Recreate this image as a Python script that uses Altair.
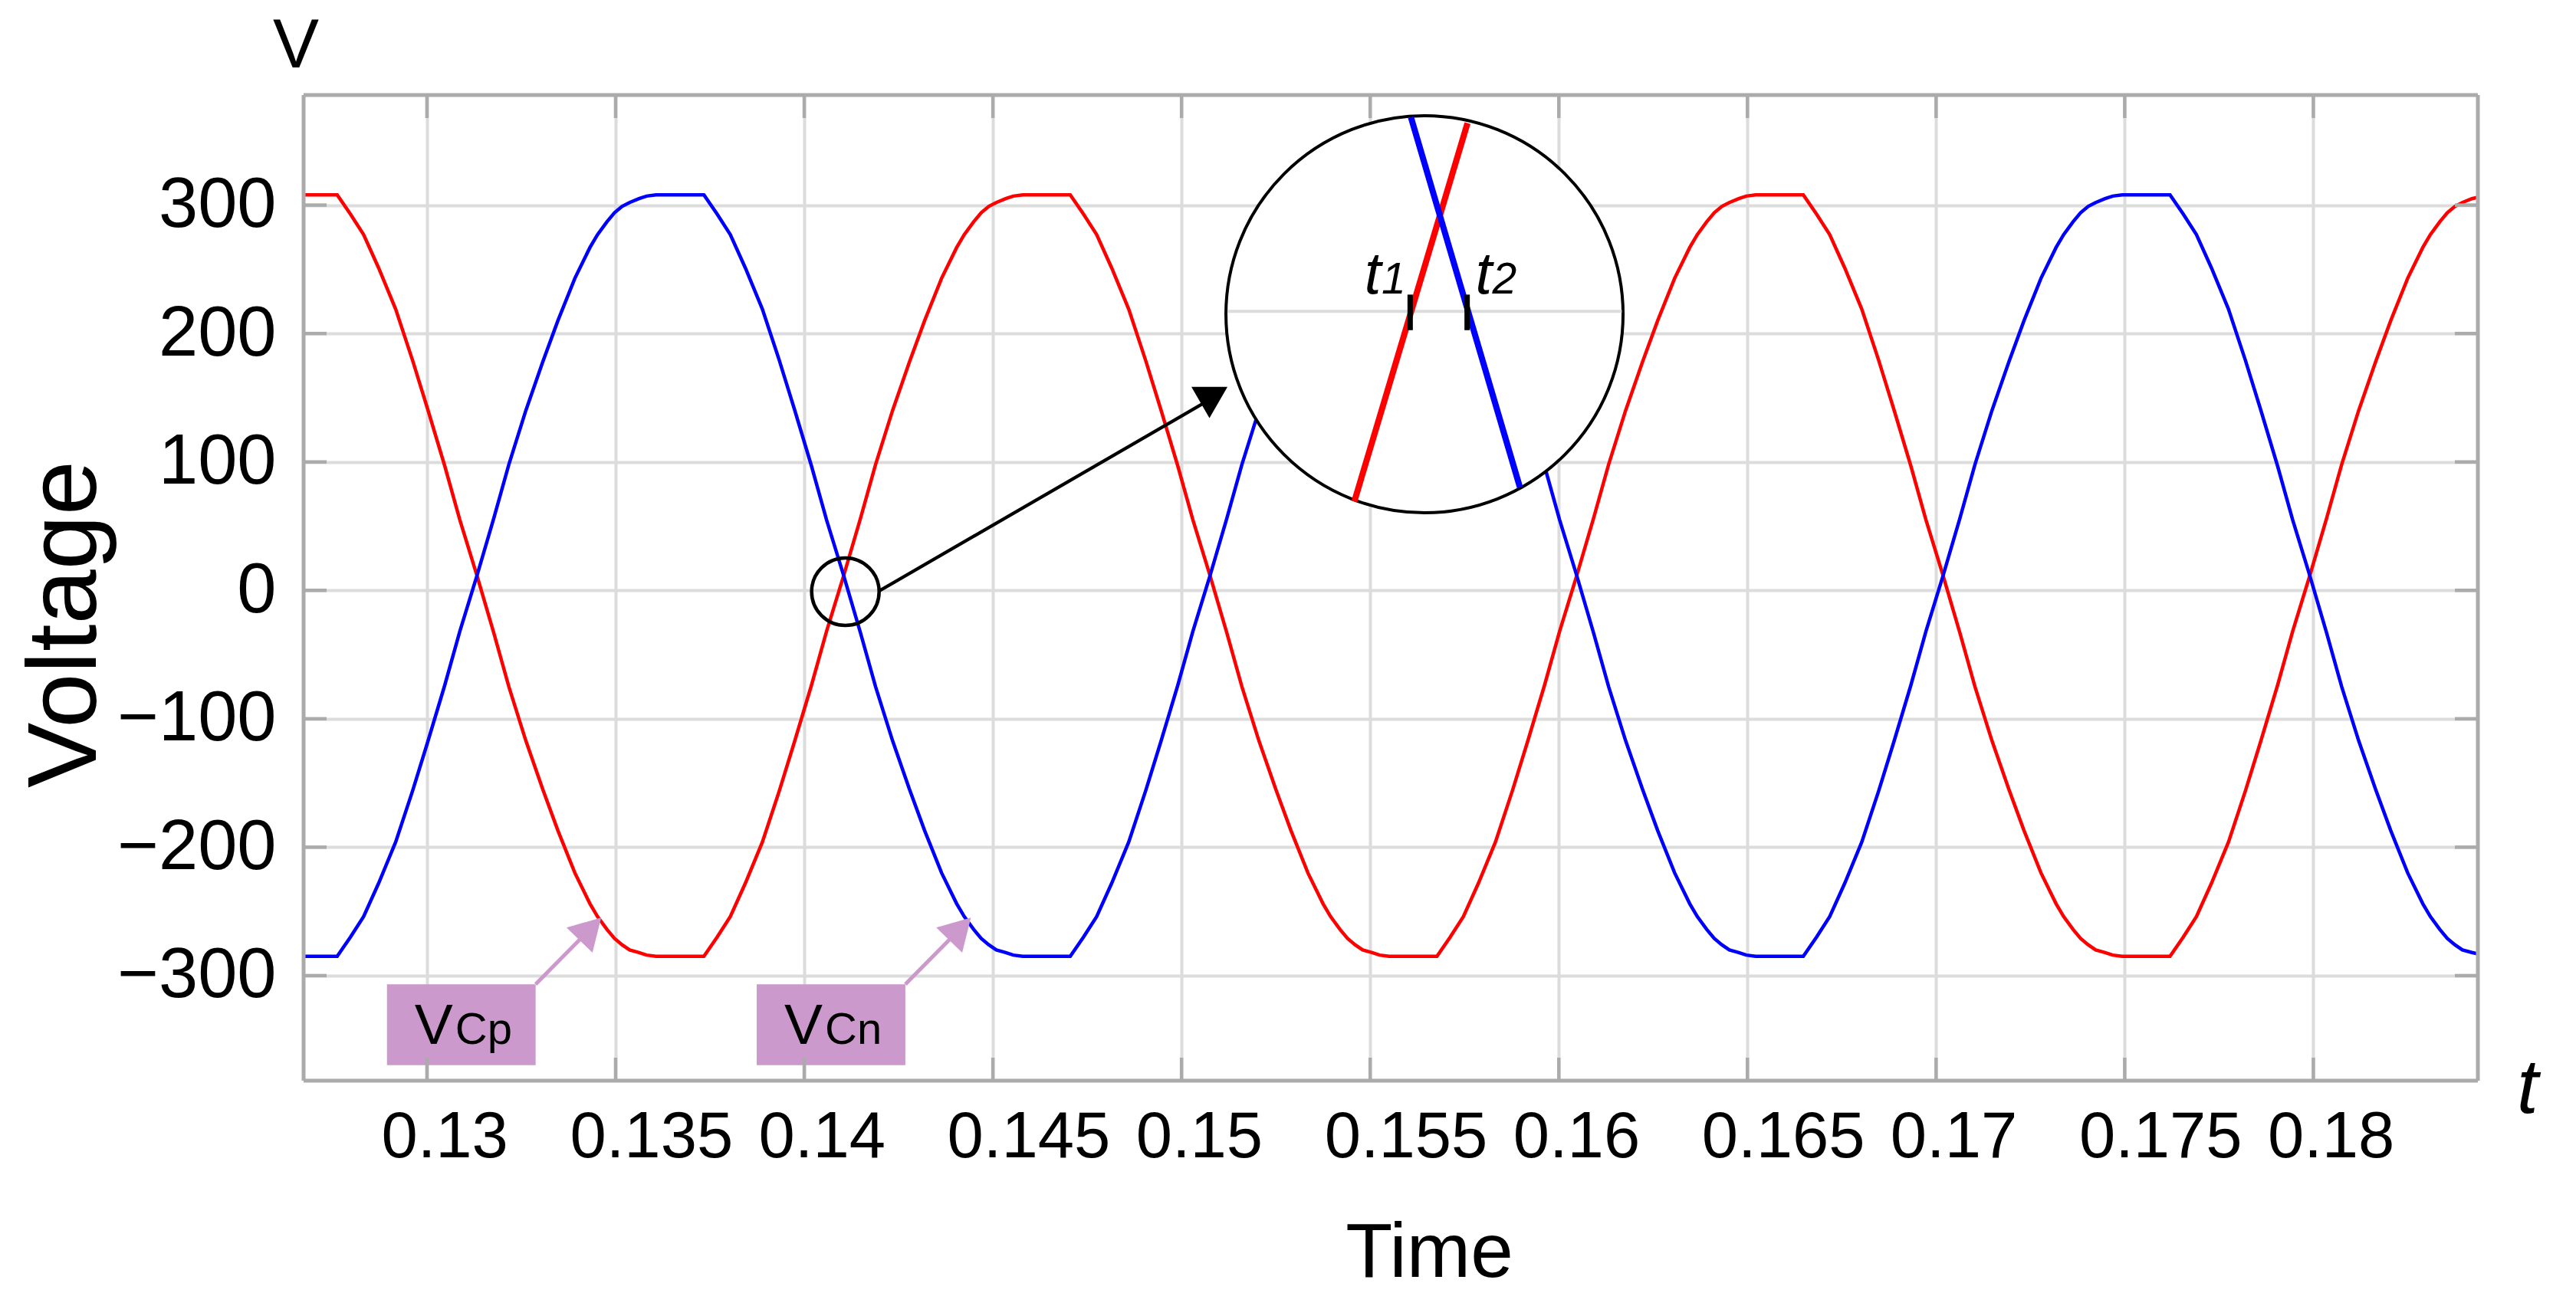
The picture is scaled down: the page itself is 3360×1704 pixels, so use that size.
import altair as alt
import pandas as pd

# ---------------- data ----------------
time_s = [0.12673,
    0.12762, 0.12797, 0.12832, 0.12872, 0.12917, 0.12962, 0.13002, 0.13047, 0.13087, 0.13132, 0.13177,
    0.13217, 0.13262, 0.13307, 0.13347, 0.13392, 0.13432, 0.13452, 0.13477, 0.13497, 0.13517, 0.13537, 0.13562, 0.13582, 0.13607,
    0.13734, 0.13769, 0.13804, 0.13844, 0.13889, 0.13934, 0.13974, 0.14019, 0.14059, 0.14104, 0.14149,
    0.14189, 0.14234, 0.14279, 0.14319, 0.14364, 0.14404, 0.14424, 0.14449, 0.14469, 0.14489, 0.14509, 0.14534, 0.14554, 0.14579,
    0.14705, 0.14740, 0.14775, 0.14815, 0.14860, 0.14905, 0.14945, 0.14990, 0.15030, 0.15075, 0.15120,
    0.15160, 0.15205, 0.15250, 0.15290, 0.15335, 0.15375, 0.15395, 0.15420, 0.15440, 0.15460, 0.15480, 0.15505, 0.15525, 0.15550,
    0.15677, 0.15712, 0.15747, 0.15787, 0.15832, 0.15877, 0.15917, 0.15962, 0.16002, 0.16047, 0.16092,
    0.16132, 0.16177, 0.16222, 0.16262, 0.16307, 0.16347, 0.16367, 0.16392, 0.16412, 0.16432, 0.16452, 0.16477, 0.16497, 0.16522,
    0.16648, 0.16683, 0.16718, 0.16758, 0.16803, 0.16848, 0.16888, 0.16933, 0.16973, 0.17018, 0.17063,
    0.17103, 0.17148, 0.17193, 0.17233, 0.17278, 0.17318, 0.17338, 0.17363, 0.17383, 0.17403, 0.17423, 0.17448, 0.17468, 0.17493,
    0.17620, 0.17655, 0.17690, 0.17730, 0.17775, 0.17820, 0.17860, 0.17905, 0.17945, 0.17990, 0.18035,
    0.18075, 0.18120, 0.18165, 0.18205, 0.18250, 0.18290, 0.18310, 0.18335, 0.18355, 0.18375, 0.18395, 0.18420, 0.18436]

vcp_red = [308,
    308, 293, 277, 251, 219, 179, 141, 97, 55, 12, -33, -75, -117, -155, -187, -220, -244, -254, -264, -271, -276, -280, -282, -284, -285,
    -285, -270, -254, -228, -196, -156, -118, -74, -32, 11, 56, 98, 140, 178, 210, 243, 267, 277, 287, 294, 299, 302, 305, 307, 308,
    308, 293, 277, 251, 219, 179, 141, 97, 55, 12, -33, -75, -117, -155, -187, -220, -244, -254, -264, -271, -276, -280, -282, -284, -285,
    -285, -270, -254, -228, -196, -156, -118, -74, -32, 11, 56, 98, 140, 178, 210, 243, 267, 277, 287, 294, 299, 302, 305, 307, 308,
    308, 293, 277, 251, 219, 179, 141, 97, 55, 12, -33, -75, -117, -155, -187, -220, -244, -254, -264, -271, -276, -280, -282, -284, -285,
    -285, -270, -254, -228, -196, -156, -118, -74, -32, 11, 56, 98, 140, 178, 210, 243, 267, 277, 287, 294, 299, 302, 305, 306]

vcn_blue = [-285,
    -285, -270, -254, -228, -196, -156, -118, -74, -32, 11, 56, 98, 140, 178, 210, 243, 267, 277, 287, 294, 299, 302, 305, 307, 308,
    308, 293, 277, 251, 219, 179, 141, 97, 55, 12, -33, -75, -117, -155, -187, -220, -244, -254, -264, -271, -276, -280, -282, -284, -285,
    -285, -270, -254, -228, -196, -156, -118, -74, -32, 11, 56, 98, 140, 178, 210, 243, 267, 277, 287, 294, 299, 302, 305, 307, 308,
    308, 293, 277, 251, 219, 179, 141, 97, 55, 12, -33, -75, -117, -155, -187, -220, -244, -254, -264, -271, -276, -280, -282, -284, -285,
    -285, -270, -254, -228, -196, -156, -118, -74, -32, 11, 56, 98, 140, 178, 210, 243, 267, 277, 287, 294, 299, 302, 305, 307, 308,
    308, 293, 277, 251, 219, 179, 141, 97, 55, 12, -33, -75, -117, -155, -187, -220, -244, -254, -264, -271, -276, -280, -282, -283]

x_ticks = [0.13, 0.135, 0.14, 0.145, 0.15, 0.155, 0.16, 0.165, 0.17, 0.175, 0.18]
y_ticks = [-300, -200, -100, 0, 100, 200, 300]
x_domain = [0.12673, 0.18436]
y_domain = [-381.8, 385.7]

# annotations (data coordinates)
small_circle_t, small_circle_v = [0.14109], [-1.0]
arrow_t, arrow_t2, arrow_v, arrow_v2 = [0.14199], [0.15060], [-0.4], [146.0]
arrowhead_t, arrowhead_v = [0.15074], [146.3]

box_t, box_t2 = [0.12894, 0.13874], [0.13288, 0.14268]
box_v, box_v2 = [-369.7, -369.7], [-306.7, -306.7]
box_main_t, box_sub_t = [0.12967, 0.13947], [0.13075, 0.14055]
box_text_v = [-353.4, -353.4]
box_sub_text = ["Cp", "Cn"]
parrow_t, parrow_t2 = [0.13288, 0.14268], [0.13433, 0.14413]
parrow_v, parrow_v2 = [-306.7, -306.7], [-263.6, -263.6]

inset_t, inset_v = [0.15644], [215.0]
inset_grid_t, inset_grid_t2, inset_grid_v = [0.15122], [0.16167], [217.2]
inset_red_t, inset_red_t2, inset_red_v, inset_red_v2 = [0.15458], [0.15758], [69.2], [363.8]
inset_blue_t, inset_blue_t2, inset_blue_v, inset_blue_v2 = [0.15608], [0.15897], [368.4], [80.2]
inset_tick_t, inset_tick_v, inset_tick_v2 = [0.15606, 0.15757], [202.6, 202.6], [230.3, 230.3]
inset_t_letter_t = [0.15485, 0.15779]
inset_sub_t = [0.15530, 0.15824]
inset_label_v = [230.9, 230.9]
inset_sub_text = ["1", "2"]

# ---------------- chart ----------------
W, H = 2836, 1286
FONT = "Liberation Sans"
FRAME = "#ababab"
PURPLE = "#cc99cc"
GRID = "#dcdcdc"

xs = alt.Scale(domain=x_domain, nice=False, zero=False)
ys = alt.Scale(domain=y_domain, nice=False, zero=False)

x_axis = alt.Axis(values=x_ticks, format=".3~f", title="Time", grid=True, ticks=False,
                  domain=False, labelFontSize=85, labelPadding=32, labelColor="black",
                  labelFont=FONT, labelFlush=False, labelLimit=0, labelOverlap=False,
                  labelAlign="left", labelOffset=-60,
                  gridColor=GRID, gridWidth=4,
                  titleFontSize=100, titleFontWeight="normal", titleFont=FONT,
                  titleColor="black", titleX=1468, titleY=255, titleAlign="center",
                  titleBaseline="alphabetic")
y_axis = alt.Axis(values=y_ticks, title="Voltage", grid=True, ticks=False, domain=False,
                  labelFontSize=92, labelPadding=36, labelColor="black", labelFont=FONT,
                  labelFlush=False, labelLimit=0, labelOverlap=False,
                  gridColor=GRID, gridWidth=4,
                  titleFontSize=128, titleFontWeight="normal", titleFont=FONT,
                  titleColor="black", titleAngle=270, titleX=-272, titleY=690,
                  titleAlign="center", titleBaseline="alphabetic")


def X(f="t"):
    return alt.X(f + ":Q", scale=xs, axis=x_axis)


def Y(f="v"):
    return alt.Y(f + ":Q", scale=ys, axis=y_axis)


red_df = pd.DataFrame({"t": time_s, "v": vcp_red})
blue_df = pd.DataFrame({"t": time_s, "v": vcn_blue})

red_line = alt.Chart(red_df).mark_line(color="#ff0000", strokeWidth=4.5, clip=True).encode(x=X(), y=Y())
blue_line = alt.Chart(blue_df).mark_line(color="#0000ff", strokeWidth=4.5, clip=True).encode(x=X(), y=Y())

small_circle = alt.Chart(pd.DataFrame({"t": small_circle_t, "v": small_circle_v})).mark_point(
    shape="circle", filled=False, color="black", size=7744, strokeWidth=4.5, opacity=1
).encode(x=X(), y=Y())

arrow = alt.Chart(pd.DataFrame({"t": arrow_t, "t2": arrow_t2, "v": arrow_v, "v2": arrow_v2})).mark_rule(
    color="black", strokeWidth=4.3).encode(x=X(), x2="t2", y=Y(), y2="v2")
arrowhead = alt.Chart(pd.DataFrame({"t": arrowhead_t, "v": arrowhead_v})).mark_point(
    shape="triangle-down", filled=True, color="black", size=2209, opacity=1, strokeWidth=0
).encode(x=X(), y=Y())

boxes = alt.Chart(pd.DataFrame({"t": box_t, "t2": box_t2, "v": box_v, "v2": box_v2})).mark_rect(
    color=PURPLE, opacity=1).encode(x=X(), x2="t2", y=Y(), y2="v2")
box_v_text = alt.Chart(pd.DataFrame({"t": box_main_t, "v": box_text_v})).mark_text(
    text="V", font=FONT, fontSize=75, align="left", baseline="alphabetic", color="black"
).encode(x=X(), y=Y())
box_sub = alt.Chart(pd.DataFrame({"t": box_sub_t, "v": box_text_v, "s": box_sub_text})).mark_text(
    font=FONT, fontSize=58, align="left", baseline="alphabetic", color="black"
).encode(x=X(), y=Y(), text="s:N")
parrows = alt.Chart(pd.DataFrame({"t": parrow_t, "t2": parrow_t2, "v": parrow_v, "v2": parrow_v2})).mark_rule(
    color=PURPLE, strokeWidth=5).encode(x=X(), x2="t2", y=Y(), y2="v2")
pheads = alt.Chart(pd.DataFrame({"t": parrow_t2, "v": parrow_v2})).mark_point(
    shape="triangle-up", angle=44, filled=True, color=PURPLE, size=2209, opacity=1, strokeWidth=0
).encode(x=X(), y=Y())

inset = alt.Chart(pd.DataFrame({"t": inset_t, "v": inset_v})).mark_point(
    shape="circle", filled=True, fill="white", stroke="black", strokeWidth=4, size=268324,
    opacity=1, fillOpacity=1, strokeOpacity=1
).encode(x=X(), y=Y())
inset_grid = alt.Chart(pd.DataFrame({"t": inset_grid_t, "t2": inset_grid_t2, "v": inset_grid_v})).mark_rule(
    color=GRID, strokeWidth=4).encode(x=X(), x2="t2", y=Y())
inset_red = alt.Chart(pd.DataFrame({"t": inset_red_t, "t2": inset_red_t2, "v": inset_red_v, "v2": inset_red_v2})).mark_rule(
    color="#ff0000", strokeWidth=8, strokeCap="butt").encode(x=X(), x2="t2", y=Y(), y2="v2")
inset_blue = alt.Chart(pd.DataFrame({"t": inset_blue_t, "t2": inset_blue_t2, "v": inset_blue_v, "v2": inset_blue_v2})).mark_rule(
    color="#0000ff", strokeWidth=8, strokeCap="butt").encode(x=X(), x2="t2", y=Y(), y2="v2")
inset_ticks = alt.Chart(pd.DataFrame({"t": inset_tick_t, "v": inset_tick_v, "v2": inset_tick_v2})).mark_rule(
    color="black", strokeWidth=7, strokeCap="butt").encode(x=X(), y=Y(), y2="v2")
inset_t_text = alt.Chart(pd.DataFrame({"t": inset_t_letter_t, "v": inset_label_v})).mark_text(
    text="t", font=FONT, fontSize=78, fontStyle="italic", align="left", baseline="alphabetic", color="black"
).encode(x=X(), y=Y())
inset_sub = alt.Chart(pd.DataFrame({"t": inset_sub_t, "v": inset_label_v, "s": inset_sub_text})).mark_text(
    font=FONT, fontSize=57, fontStyle="italic", align="left", baseline="alphabetic", color="black"
).encode(x=X(), y=Y(), text="s:N")

xt = pd.DataFrame({"t": x_ticks})
yt = pd.DataFrame({"v": y_ticks})
tick_len = 30
tb = alt.Chart(xt).mark_rule(color=FRAME, strokeWidth=4.5).encode(x=X(), y=alt.value(H), y2=alt.value(H - tick_len))
tt = alt.Chart(xt).mark_rule(color=FRAME, strokeWidth=4.5).encode(x=X(), y=alt.value(0), y2=alt.value(tick_len))
tl = alt.Chart(yt).mark_rule(color=FRAME, strokeWidth=4.5).encode(y=Y(), x=alt.value(0), x2=alt.value(tick_len))
tr = alt.Chart(yt).mark_rule(color=FRAME, strokeWidth=4.5).encode(y=Y(), x=alt.value(W), x2=alt.value(W - tick_len))

one = pd.DataFrame({"a": [0]})
# plot frame (four sides)
f_top = alt.Chart(one).mark_rule(color=FRAME, strokeWidth=5).encode(x=alt.value(0), x2=alt.value(W), y=alt.value(0))
f_bot = alt.Chart(one).mark_rule(color=FRAME, strokeWidth=5).encode(x=alt.value(0), x2=alt.value(W), y=alt.value(H))
f_left = alt.Chart(one).mark_rule(color=FRAME, strokeWidth=5).encode(y=alt.value(0), y2=alt.value(H), x=alt.value(0))
f_right = alt.Chart(one).mark_rule(color=FRAME, strokeWidth=5).encode(y=alt.value(0), y2=alt.value(H), x=alt.value(W))

v_label = alt.Chart(one).mark_text(text="V", font=FONT, fontSize=90, align="center",
                                   baseline="alphabetic", color="black").encode(
    x=alt.value(-10), y=alt.value(-36))
t_label = alt.Chart(one).mark_text(text="t", font=FONT, fontSize=100, fontStyle="italic",
                                   align="center", baseline="alphabetic", color="black").encode(
    x=alt.value(2901), y=alt.value(1328))

chart = alt.layer(
    red_line, blue_line,
    small_circle, arrow, arrowhead,
    boxes, parrows, pheads, box_v_text, box_sub,
    inset, inset_grid, inset_red, inset_blue, inset_ticks, inset_t_text, inset_sub,
    tb, tt, tl, tr, f_top, f_bot, f_left, f_right,
    v_label, t_label,
).properties(
    width=W, height=H,
    padding={"left": 388, "top": 116, "right": 110, "bottom": 280},
    autosize=alt.AutoSizeParams(type="none"),
    background="white",
).configure_view(stroke=None).configure(font=FONT)

chart.save("out.html", embed_options={"renderer": "svg", "actions": False})
